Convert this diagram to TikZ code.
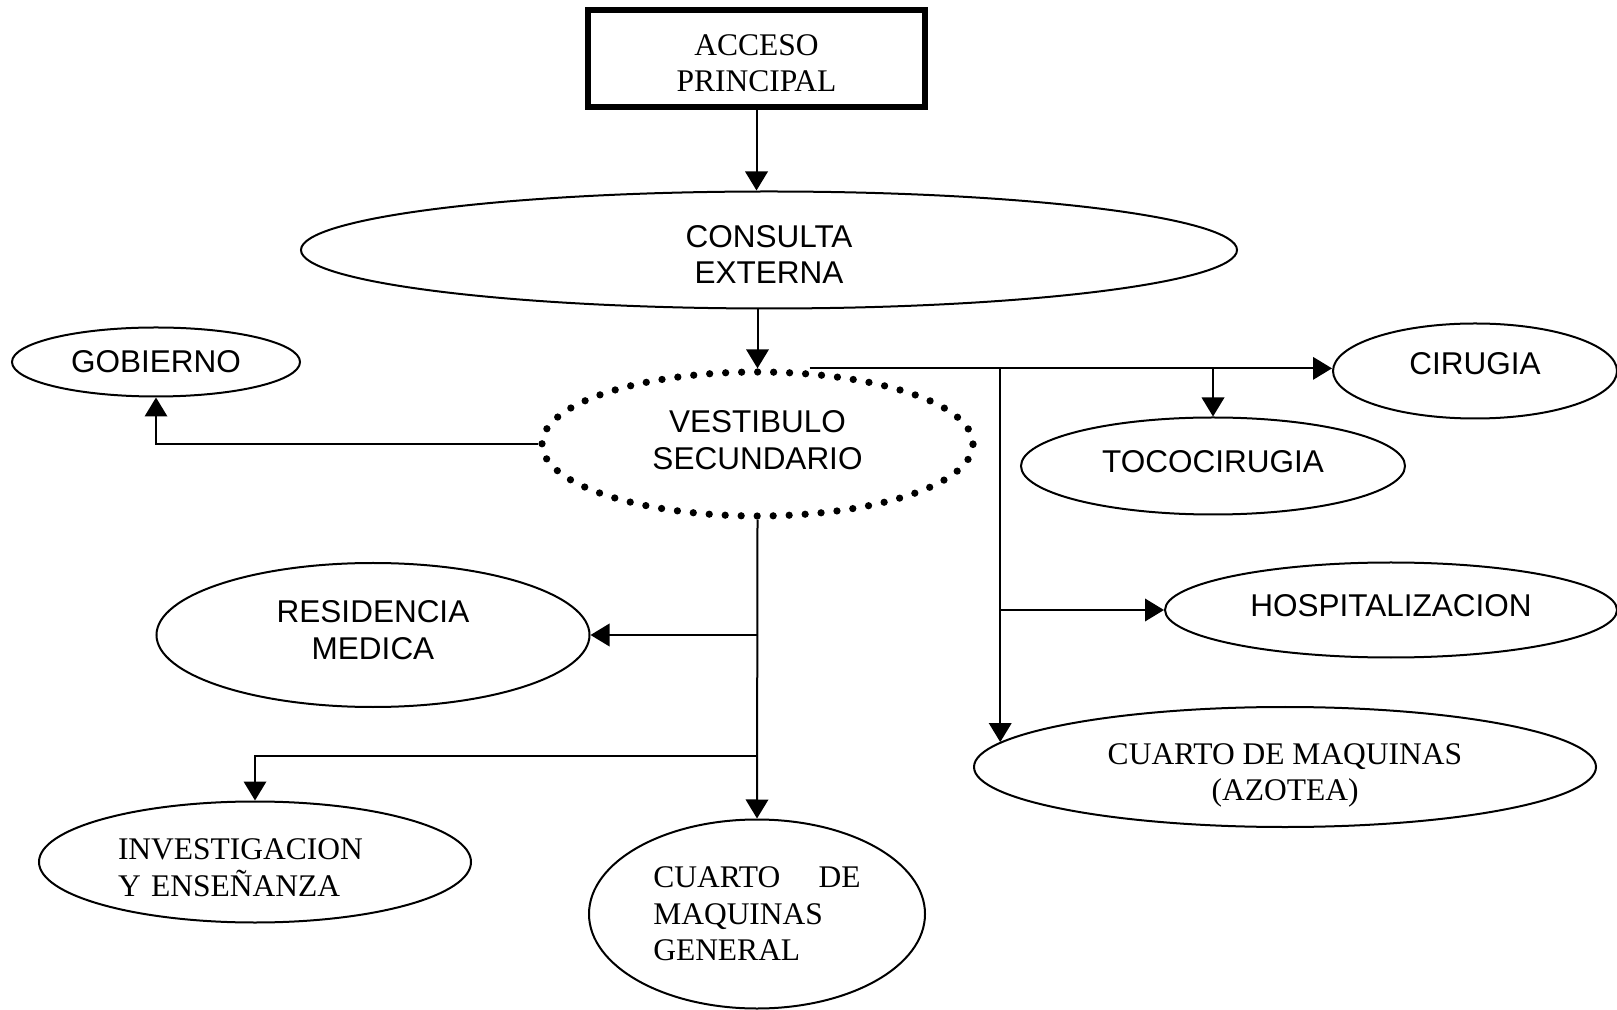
\documentclass[tikz,border=0pt]{standalone}
\usepackage{fontspec}
\setmainfont{Liberation Serif}
\newfontfamily\arialfont{Liberation Sans}
\usetikzlibrary{arrows.meta,shapes.geometric,calc}

\begin{document}
\begin{tikzpicture}[
  x=0.4pt, y=-0.4pt,
  font=\fontsize{12.6}{14.6}\selectfont,
  zona/.style={draw,ellipse,line width=0.8pt,inner sep=0pt,align=center},
  zonasf/.style={zona,font=\arialfont\fontsize{12.6}{14.6}\selectfont},
  vestib/.style={ellipse,draw,line width=2.9pt,line cap=round,dash pattern=on 0pt off 6.4pt,inner sep=0pt,align=center,font=\arialfont\fontsize{12.6}{14.6}\selectfont},
  arr/.style={-{Triangle[length=7.6pt,width=9pt]},line width=0.8pt}
]
\useasboundingbox (0,0) rectangle (1617,1010);

\node[draw,line width=2.2pt,minimum width=134.8pt,minimum height=38.8pt,align=center,text height=26.8pt] (acceso) at (756.5,58.5) {ACCESO\\PRINCIPAL};
\node[zonasf,minimum width=374.4pt,minimum height=46.8pt,text height=27.1pt] (consulta) at (769,250) {CONSULTA\\EXTERNA};
\node[vestib,minimum width=172.4pt,minimum height=57.6pt,text height=20.5pt] (vest) at (757.5,444) {VESTIBULO\\SECUNDARIO};
\node[zonasf,minimum width=115.2pt,minimum height=27.6pt] (gobierno) at (156,362) {GOBIERNO};
\node[zonasf,minimum width=113.6pt,minimum height=38pt,text height=2.6pt] (cirugia) at (1475,371) {CIRUGIA};
\node[zonasf,minimum width=153.6pt,minimum height=38.8pt,text height=5pt] (toco) at (1213,466) {TOCOCIRUGIA};
\node[zonasf,minimum width=180.8pt,minimum height=38pt,text height=5pt] (hosp) at (1391,610) {HOSPITALIZACION};
\node[zona,minimum width=248.8pt,minimum height=48pt,text height=29.7pt] (azotea) at (1285,767) {CUARTO DE MAQUINAS\\(AZOTEA)};
\node[zonasf,minimum width=173.2pt,minimum height=57.6pt,text height=19.6pt] (resid) at (373,635) {RESIDENCIA\\MEDICA};
\node[zona,align=left,text width=109.6pt,text height=13.1pt,minimum width=172.8pt,minimum height=48.4pt] (inv) at (255,862) {INVESTIGACION\\Y ENSE\~NANZA};
\node[zona,align=left,text width=83pt,minimum width=134.4pt,minimum height=75.6pt] (general) at (757,914) {CUARTO\hskip 0pt plus 1fill DE\\MAQUINAS\\GENERAL};

\coordinate (salida) at ($(vest.north)+(52,0)$);
\coordinate (ramal) at (azotea.175 |- salida);
\coordinate (cruce) at (vest.south |- 0,756);

\draw[arr] (acceso.south) -- (acceso.south |- consulta.north);
\draw[arr] (consulta.south -| vest.north) -- (vest.north);
\draw[arr] (vest.west) -| (gobierno.south);
\draw[arr] (salida) -- (salida -| cirugia.west);
\draw[arr] (toco.north |- salida) -- (toco.north);
\draw[arr] (ramal) -- (azotea.175);
\draw[arr] (ramal |- hosp.west) -- (hosp.west);
\draw[arr] (vest.south) -- (general.north);
\draw[arr] (vest.south |- resid.east) -- (resid.east);
\draw[arr] (cruce) -| (inv.north);
\end{tikzpicture}
\end{document}
